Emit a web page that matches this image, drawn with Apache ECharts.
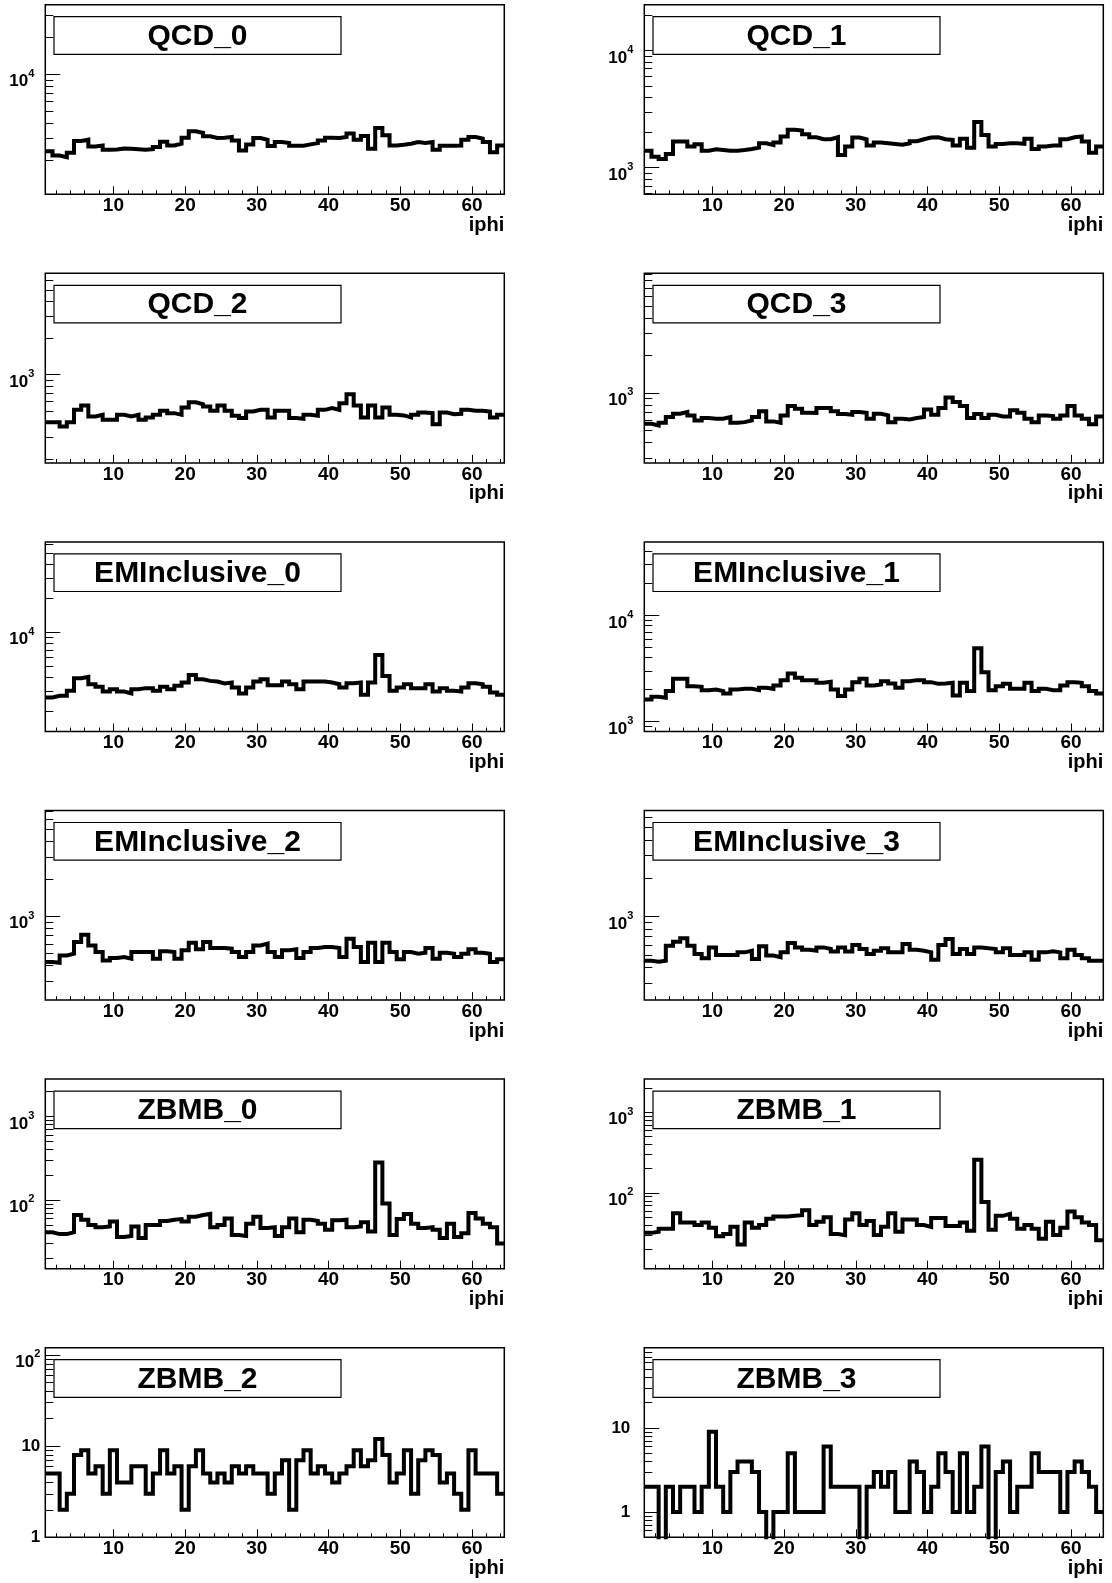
<!DOCTYPE html>
<html><head><meta charset="utf-8">
<script src="https://cdn.jsdelivr.net/npm/echarts@6/dist/echarts.min.js"></script>
<style>html,body{margin:0;padding:0;background:#fff}#c{width:1112px;height:1583px}</style>
</head><body><div id="c"></div>
<script>
// ---------- data ----------
const iphi = [1,2,3,4,5,6,7,8,9,10,11,12,13,14,15,16,17,18,19,20,21,22,23,24,25,26,27,28,29,30,31,32,
  33,34,35,36,37,38,39,40,41,42,43,44,45,46,47,48,49,50,51,52,53,54,55,56,57,58,59,60,61,62,63,64];
const xMajorTicks = [10,20,30,40,50,60];
const xMinorTicks = [2,4,6,8,10,12,14,16,18,20,22,24,26,28,30,32,34,36,38,40,42,44,46,48,50,52,54,56,58,60,62,64];
const xAxisTitle = 'iphi';
const panelNames = ['QCD_0','QCD_1','QCD_2','QCD_3','EMInclusive_0','EMInclusive_1',
  'EMInclusive_2','EMInclusive_3','ZBMB_0','ZBMB_1','ZBMB_2','ZBMB_3'];

const QCD_0 = [2373,2188,2120,2300,2870,2940,2590,2640,2435,2450,2495,2480,2465,2435,2465,2560,2833,2640,2730,3055,
  3445,3336,3130,3035,3055,3093,2903,2403,2694,3035,2940,2608,2812,2760,2625,2625,2694,2760,2903,3055,
  3035,3093,3296,2940,3155,2480,3665,3192,2640,2675,2730,2812,2760,2812,2435,2625,2625,2640,2940,3093,
  3000,2812,2330,2640];
const QCD_1 = [1398,1242,1186,1310,1671,1671,1514,1585,1398,1435,1417,1398,1398,1417,1445,1483,1617,1564,1638,1845,
  2104,2075,1931,1820,1750,1750,1820,1284,1514,1807,1750,1545,1638,1617,1596,1574,1617,1683,1750,1807,
  1820,1750,1726,1545,1762,1483,2460,1905,1514,1596,1617,1617,1596,1762,1445,1514,1545,1545,1750,1820,
  1845,1671,1344,1514];
const QCD_2 = [403,403,371,403,509,553,449,463,421,421,463,449,463,421,441,463,500,478,463,532,
  589,567,542,500,553,500,455,435,493,509,509,441,500,500,435,429,463,455,509,526,
  509,578,685,553,441,553,441,532,463,458,441,463,484,478,388,484,469,472,509,500,
  500,493,441,463];
const QCD_3 = [564,546,574,638,679,701,658,600,627,618,618,638,574,581,600,638,710,589,574,658,
  784,746,692,688,755,755,710,675,667,701,692,618,679,658,581,618,611,627,638,736,
  667,755,916,845,784,627,675,627,667,646,646,723,692,618,581,658,650,618,658,784,
  658,618,560,646];
const EMInclusive_0 = [2655,2746,2746,3037,3924,4029,3475,3294,2997,3141,2997,2878,3141,3207,3207,3037,3294,3141,3360,3594,
  4198,3844,3718,3665,3524,3594,3252,2878,3252,3665,3844,3407,3407,3665,3475,3141,3665,3665,3665,3594,
  3475,3252,3548,3594,2799,3594,6283,4113,3037,3252,3475,3207,3207,3475,2997,3207,3037,2997,3252,3548,
  3475,3294,2937,2799];
const EMInclusive_1 = [1618,1714,1679,1941,2531,2531,2159,2128,1981,2011,1941,1844,2011,2038,2038,1981,2083,2038,2193,2461,
  2840,2587,2461,2461,2323,2372,2011,1742,2011,2355,2531,2193,2240,2406,2287,2083,2406,2461,2461,2355,
  2270,2287,2323,1767,2323,1941,4910,2924,1981,2159,2270,2038,2038,2323,1941,2038,1981,1981,2193,2355,
  2323,2159,1941,1844];
const EMInclusive_2 = [428,423,484,500,621,711,583,515,441,461,470,456,515,515,515,456,522,515,456,532,
  613,542,621,556,556,549,515,470,515,583,603,515,470,532,542,461,515,556,566,566,
  556,470,661,566,428,613,428,613,515,450,515,500,509,556,456,509,500,470,500,542,
  509,500,428,450];
const EMInclusive_3 = [453,445,453,593,638,678,593,511,473,575,502,502,502,526,542,467,587,496,481,526,
  622,575,552,542,575,559,533,575,533,601,559,511,542,566,526,526,611,552,542,526,
  461,601,670,511,559,511,575,566,559,526,566,502,502,526,461,526,536,526,473,552,
  502,473,453,453];
const ZBMB_0 = [41,39,39,41,66,58,50,47,48,55,36,37,48,35,50,50,56,58,59,55,
  63,66,68,47,50,60,38,37,52,63,46,47,37,47,60,41,58,56,52,44,
  57,58,47,48,54,42,281,91,38,59,68,52,46,47,44,35,52,36,40,70,
  60,52,47,30];
const ZBMB_1 = [32,33,36,36,56,43,43,40,43,37,29,31,38,23,43,37,40,48,51,51,
  52,53,61,40,44,50,31,30,47,56,40,45,30,38,56,33,47,47,40,38,
  49,49,39,39,43,34,258,77,35,52,55,48,36,40,36,27,44,30,37,59,
  50,43,40,26];
const ZBMB_2 = [5,5,2,3,8,9,5,6,3,9,4,4,6,6,3,5,9,5,6,2,
  6,9,5,4,5,4,6,5,6,5,5,3,5,7,2,7,9,5,6,5,
  4,5,6,9,6,7,12,8,4,5,9,3,7,9,8,4,5,3,2,9,
  5,5,5,3];
const ZBMB_3 = [2,2,0,2,1,2,2,1,2,9,2,1,3,4,4,3,1,0,1,1,
  5,1,1,1,1,6,2,2,2,2,0,2,3,2,3,1,1,4,3,1,
  2,5,3,1,5,1,2,6,0,3,4,1,2,2,5,3,3,3,1,3,
  4,3,2,1];

const panelValues = [QCD_0, QCD_1, QCD_2, QCD_3, EMInclusive_0, EMInclusive_1,
  EMInclusive_2, EMInclusive_3, ZBMB_0, ZBMB_1, ZBMB_2, ZBMB_3];

// ---------- layout / style ----------
const FONT = '"Liberation Sans", Arial, Helvetica, sans-serif';
const colLeft = [45.3, 644.3];
const rowTop = [4.7, 273.3, 541.9, 810.5, 1079.1, 1347.7];
const W = 459, H = 189.6;
const yLabelMargin = [11,11,11,11,11,11,11,11,11,11,5,14];

const chart = echarts.init(document.getElementById('c'), null, {renderer: 'canvas', width: 1112, height: 1583});

const grids = [], xAxes = [], yAxes = [], series = [], graphics = [];

panelValues.forEach((vals, i) => {
  const r = Math.floor(i / 2), c = i % 2;
  const left = colLeft[c], top = rowTop[r];
  const positive = vals.filter(v => v > 0);
  const yMin = Math.min(...positive) * 0.5;   // ROOT log-scale lower margin
  const yMax = Math.max(...vals) * 10;        // maximum set to 10x peak
  const e0 = Math.floor(Math.log10(yMin)), e1 = Math.ceil(Math.log10(yMax));
  const major = [], minor = [];
  for (let e = e0; e <= e1; e++) {
    const b = Math.pow(10, e);
    if (b >= yMin * 0.99999 && b <= yMax) major.push(b);
    for (let m = 2; m <= 9; m++) {
      const v = m * b;
      if (v >= yMin && v <= yMax) minor.push(v);
    }
  }

  grids.push({left: left, top: top, width: W, height: H, show: true,
    borderColor: '#000', borderWidth: 1.5, backgroundColor: 'transparent',
    containLabel: false, outerBoundsMode: 'none'});

  const xBase = {gridIndex: i, type: 'value', min: 0.5, max: 64.5, position: 'bottom',
    axisLine: {show: false, onZero: false}, splitLine: {show: false}};
  xAxes.push(Object.assign({}, xBase, {
    axisTick: {show: true, inside: true, length: 8, customValues: xMajorTicks, lineStyle: {color: '#000', width: 1}},
    axisLabel: {show: true, customValues: xMajorTicks, margin: 2, fontSize: 19, fontWeight: 'bold',
      fontFamily: FONT, color: '#000'},
    name: xAxisTitle, nameLocation: 'end', nameGap: 0, nameMoveOverlap: false,
    nameTextStyle: {fontSize: 20, fontWeight: 'bold', fontFamily: FONT, color: '#000',
      align: 'right', verticalAlign: 'top', padding: [21, 0, 0, 0]}
  }));
  xAxes.push(Object.assign({}, xBase, {
    axisTick: {show: true, inside: true, length: 4, customValues: xMinorTicks, lineStyle: {color: '#000', width: 1}},
    axisLabel: {show: false}
  }));

  const yBase = {gridIndex: i, type: 'log', logBase: 10, min: yMin, max: yMax, position: 'left',
    axisLine: {show: false, onZero: false}, splitLine: {show: false}, minorTick: {show: false}};
  yAxes.push(Object.assign({}, yBase, {
    axisTick: {show: true, inside: true, length: 15, customValues: major, lineStyle: {color: '#000', width: 1}},
    axisLabel: {show: true, customValues: major, margin: yLabelMargin[i], color: '#000',
      fontFamily: FONT, fontWeight: 'bold', fontSize: 17,
      formatter: function (v) {
        const e = Math.round(Math.log10(v));
        if (e <= 1) return '{p|' + (e === 0 ? '1' : '10') + '}';
        return '{b|10}{s|' + e + '}';
      },
      rich: {
        p: {fontSize: 17, fontWeight: 'bold', fontFamily: FONT, color: '#000'},
        b: {fontSize: 17, fontWeight: 'bold', fontFamily: FONT, color: '#000', padding: [15, 0, 0, 0]},
        s: {fontSize: 11, fontWeight: 'bold', fontFamily: FONT, color: '#000', padding: [0, 0, 1, 0]}
      }}
  }));
  yAxes.push(Object.assign({}, yBase, {
    axisTick: {show: true, inside: true, length: 8, customValues: minor, lineStyle: {color: '#000', width: 1}},
    axisLabel: {show: false}
  }));

  const floor = yMin / 100;  // empty bins drop below the frame (log scale)
  const pts = iphi.map((b, k) => [b - 0.5, Math.max(vals[k], floor)]);
  pts.push([iphi[iphi.length - 1] + 0.5, Math.max(vals[vals.length - 1], floor)]);
  series.push({type: 'line', xAxisIndex: 2 * i, yAxisIndex: 2 * i, data: pts, step: 'end',
    symbol: 'none', showSymbol: false, clip: true, silent: true, animation: false,
    lineStyle: {color: '#000', width: 4, join: 'miter', cap: 'butt'}, z: 5});

  // title box
  const bx = left + 8.7, by = top + 12, bw = 287, bh = 37.6;
  graphics.push({type: 'rect', shape: {x: bx, y: by, width: bw, height: bh}, z: 100,
    style: {fill: '#fff', stroke: '#000', lineWidth: 1.2}});
  graphics.push({type: 'text', x: bx + bw / 2, y: by + bh / 2 + 1, z: 101,
    style: {text: panelNames[i], fontSize: 30, fontWeight: 'bold', fontFamily: FONT,
      fill: '#000', align: 'center', verticalAlign: 'middle'}});
});

chart.setOption({
  backgroundColor: '#fff',
  animation: false,
  grid: grids,
  xAxis: xAxes,
  yAxis: yAxes,
  series: series,
  graphic: graphics
});
</script>
</body></html>
